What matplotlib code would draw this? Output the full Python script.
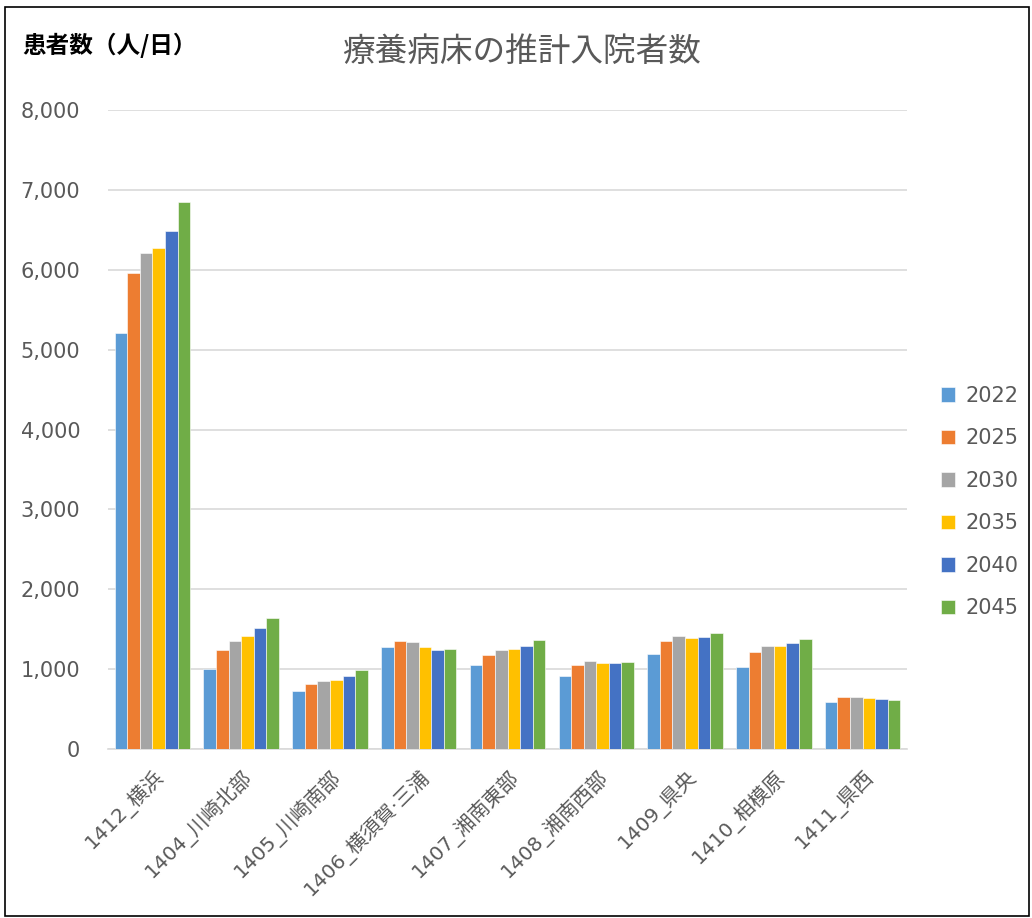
import numpy as np
import matplotlib
matplotlib.use("Agg")
import matplotlib.pyplot as plt
from matplotlib.patches import Rectangle

plt.rcParams['font.family'] = ['DejaVu Sans', 'Noto Sans CJK JP']

# data
areas = ['1412_横浜', '1404_川崎北部', '1405_川崎南部', '1406_横須賀·三浦', '1407_湘南東部',
         '1408_湘南西部', '1409_県央', '1410_相模原', '1411_県西']
years = ['2022', '2025', '2030', '2035', '2040', '2045']
v2022 = [5210, 996, 720, 1280, 1046, 912, 1192, 1029, 594]
v2025 = [5958, 1243, 808, 1356, 1180, 1046, 1356, 1213, 649]
v2030 = [6215, 1347, 849, 1343, 1243, 1096, 1410, 1285, 657]
v2035 = [6278, 1418, 866, 1272, 1247, 1079, 1389, 1293, 640]
v2040 = [6490, 1519, 912, 1243, 1293, 1075, 1397, 1326, 623]
v2045 = [6843, 1640, 983, 1255, 1368, 1088, 1456, 1381, 615]
series = [v2022, v2025, v2030, v2035, v2040, v2045]
colors = ['#5B9BD5', '#ED7D31', '#A5A5A5', '#FFC000', '#4472C4', '#70AD47']

txt = '#595959'
fig = plt.figure(figsize=(10.32, 9.18), dpi=100)
ax = fig.add_axes([108/1032, 1-749/918, (907-108)/1032, (749-110)/918])

x = np.arange(len(areas))
w = 0.85 / len(years)
for i, (vals, c) in enumerate(zip(series, colors)):
    ax.bar(x - 0.425 + w*(i+0.5), vals, width=w, color=c, label=years[i],
           edgecolor='white', linewidth=0.4, zorder=3)

ax.set_xlim(-0.5, len(areas)-0.5)
ax.set_ylim(0, 8000)
ax.set_yticks(range(0, 8001, 1000))
ax.set_yticklabels([f'{v:,}' for v in range(0, 8001, 1000)])
ax.grid(axis='y', color='#D9D9D9', linewidth=1.2, zorder=0)
for s in ['top', 'right', 'left']:
    ax.spines[s].set_visible(False)
ax.spines['bottom'].set_color('#D9D9D9')
ax.spines['bottom'].set_linewidth(1.2)
ax.tick_params(axis='y', length=0, pad=20, labelsize=15, labelcolor=txt)
ax.tick_params(axis='x', length=0, pad=12, labelcolor=txt)
ax.set_xticks(x)
ax.set_xticklabels(areas, rotation=45, ha='right', rotation_mode='anchor', fontsize=14.5)

fig.text(0.505, 1-52/918, '療養病床の推計入院者数', ha='center', va='center',
         fontsize=23.5, color=txt, family=['Noto Sans CJK JP', 'DejaVu Sans'])
fig.text(22/1032, 1-45/918, '患者数（人/日）', ha='left', va='center',
         fontsize=17, fontweight='bold', color='black', family=['Noto Sans CJK JP', 'DejaVu Sans'])

fig.legend(loc='center left', bbox_to_anchor=(922/1032, 1-502/918), frameon=False,
           fontsize=15, handlelength=0.7, handleheight=0.7, labelspacing=1.08,
           handletextpad=0.5, labelcolor=txt)

fig.patches.append(Rectangle((5/1032, 0.002), 1024/1032, 1-7/918-0.002, transform=fig.transFigure,
                             fill=False, edgecolor='black', linewidth=1.2))

fig.savefig('out.png', dpi=100)
